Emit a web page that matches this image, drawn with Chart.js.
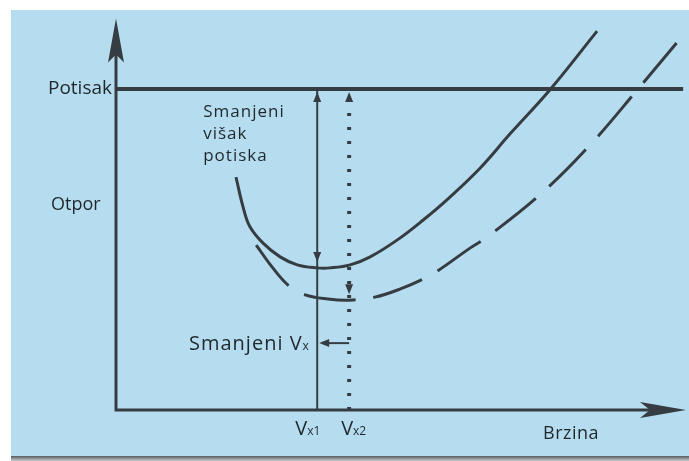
<!DOCTYPE html>
<html>
<head>
<meta charset="utf-8">
<script src="https://cdn.jsdelivr.net/npm/chart.js@4/dist/chart.umd.min.js"></script>
<style>
  body { margin: 0; background: #fff; }
  canvas { display: block; }
</style>
</head>
<body>
<canvas id="grafikOtpor" width="689" height="461"></canvas>
<script>
// Brzina / otpor (proizvoljne jedinice, 0-100 na obje osi)
const brzina1 = [21.05, 22.3, 23.5, 25.8, 28.8, 31.8, 35.3, 37.5, 41.1, 44.6, 49.3, 53.9, 58.2, 63.9, 69.1, 76.1, 84.4];
const otpor1  = [61.3, 53.4, 48.2, 43.9, 40.3, 38.2, 37.4, 37.4, 38.2, 40.3, 44.7, 50.0, 55.5, 63.7, 72.6, 84.2, 99.7];

const brzina2 = [24.6, 27.4, 30.4, 33.2, 37.2, 40.9, 45.4, 49.8, 54.6, 57.2, 62.1, 65.1, 74.7, 83.5, 91.6, 99.8];
const otpor2  = [43.4, 37.6, 32.6, 30.3, 29.2, 28.9, 29.7, 31.8, 35.0, 37.4, 42.6, 45.5, 57.1, 70.3, 84.5, 99.2];

const potisak = 84.5;
const vx1 = 35.3;
const vx2 = 40.9;
const smanjeniVxY = 17.6;

const tocke = (xs, ys) => xs.map((x, i) => ({ x: x, y: ys[i] }));

const boja = '#363d42';
const tekst = '#1f272c';
const font = '"Open Sans", sans-serif';

function strelica(ctx, x, y, ugao, duzina, sirina, usjek) {
  // vrh strelice u (x, y), ugao = smjer u kojem pokazuje
  ctx.save();
  ctx.translate(x, y);
  ctx.rotate(ugao);
  ctx.beginPath();
  ctx.moveTo(0, 0);
  ctx.lineTo(-duzina, -sirina);
  ctx.lineTo(-duzina + (usjek || 0), 0);
  ctx.lineTo(-duzina, sirina);
  ctx.closePath();
  ctx.fillStyle = boja;
  ctx.fill();
  ctx.restore();
}

function pisi(ctx, txt, x, y, size, align, razmak) {
  ctx.font = size + 'px ' + font;
  ctx.letterSpacing = (razmak || 0) + 'px';
  ctx.textAlign = align || 'left';
  ctx.textBaseline = 'middle';
  ctx.fillStyle = tekst;
  ctx.fillText(txt, x, y);
  ctx.letterSpacing = '0px';
}

// "V" + mali indeks
function pisiV(ctx, glavno, indeks, x, y, size, subSize, razmak) {
  ctx.textBaseline = 'alphabetic';
  ctx.textAlign = 'left';
  ctx.fillStyle = tekst;
  ctx.letterSpacing = (razmak || 0) + 'px';
  ctx.font = size + 'px ' + font;
  const w1 = ctx.measureText(glavno).width;
  ctx.fillText(glavno, x, y);
  ctx.letterSpacing = '0px';
  ctx.font = subSize + 'px ' + font;
  ctx.fillText(indeks, x + w1, y);
  return w1 + ctx.measureText(indeks).width;
}

const dijagram = {
  id: 'dijagram',
  beforeDraw(chart) {
    const ctx = chart.ctx;
    ctx.save();
    ctx.fillStyle = '#ffffff';
    ctx.fillRect(0, 0, chart.width, chart.height);
    ctx.fillStyle = '#b6ddef';
    ctx.fillRect(11, 10, chart.width - 11, 447);
    const g = ctx.createLinearGradient(0, 456, 0, 461);
    g.addColorStop(0, '#555b5e');
    g.addColorStop(1, '#c9cccd');
    ctx.fillStyle = g;
    ctx.fillRect(11, 456, chart.width - 11, 5);
    ctx.restore();
  },
  afterDatasetsDraw(chart) {
    const ctx = chart.ctx;
    const sx = chart.scales.x, sy = chart.scales.y;
    const x0 = sx.getPixelForValue(0), y0 = sy.getPixelForValue(0);
    const xMax = sx.getPixelForValue(100), yMax = sy.getPixelForValue(103);
    ctx.save();
    // osi
    ctx.strokeStyle = boja;
    ctx.lineWidth = 3;
    ctx.beginPath();
    ctx.moveTo(x0, yMax + 20);
    ctx.lineTo(x0, y0);
    ctx.lineTo(xMax - 20, y0);
    ctx.stroke();
    strelica(ctx, x0, yMax, -Math.PI / 2, 44, 8, 8);
    strelica(ctx, xMax, y0, 0, 46, 8, 10);

    // strelice na Vx1 i Vx2
    const p1 = sx.getPixelForValue(vx1), p2 = sx.getPixelForValue(vx2);
    const pt = sy.getPixelForValue(potisak) + 3;
    strelica(ctx, p1, pt, -Math.PI / 2, 10, 4);
    strelica(ctx, p2, pt, -Math.PI / 2, 10, 4);
    strelica(ctx, p1, sy.getPixelForValue(otpor1[6]) - 6, Math.PI / 2, 10, 4);
    strelica(ctx, p2, sy.getPixelForValue(otpor2[5]) - 6, Math.PI / 2, 10, 4);
    const ph = sy.getPixelForValue(smanjeniVxY);
    strelica(ctx, p1 + 2, ph, Math.PI, 10, 4);

    // tekst
    pisi(ctx, 'Potisak', x0 - 4, sy.getPixelForValue(potisak), 19, 'right');
    pisi(ctx, 'Otpor', 51, sy.getPixelForValue(53.9), 18, 'left');
    const lx = sx.getPixelForValue(15.3);
    pisi(ctx, 'Smanjeni', lx, 112, 17, 'left', 1);
    pisi(ctx, 'višak', lx, 134, 17, 'left', 1);
    pisi(ctx, 'potiska', lx, 156, 17, 'left', 1);
    pisiV(ctx, 'Smanjeni V', 'x', 189, ph + 7, 20, 12, 1);
    pisiV(ctx, 'V', 'x1', p1 - 22, y0 + 25, 20, 12);
    pisiV(ctx, 'V', 'x2', p2 - 8, y0 + 25, 20, 12);
    pisi(ctx, 'Brzina', 543, 434, 18, 'left', 0.5);
    ctx.restore();
  }
};

new Chart(document.getElementById('grafikOtpor').getContext('2d'), {
  type: 'line',
  data: {
    datasets: [
      {
        label: 'Otpor 1',
        data: tocke(brzina1, otpor1),
        borderColor: boja,
        borderWidth: 3,
        tension: 0.4,
        pointRadius: 0,
        clip: false
      },
      {
        label: 'Otpor 2',
        data: tocke(brzina2, otpor2),
        borderColor: boja,
        borderWidth: 3,
        borderDash: [52, 18],
        tension: 0.4,
        pointRadius: 0,
        clip: false
      },
      {
        label: 'Potisak',
        data: [{ x: 0, y: potisak }, { x: 99.5, y: potisak }],
        borderColor: boja,
        borderWidth: 4,
        pointRadius: 0,
        clip: false
      },
      {
        label: 'Vx1',
        data: [{ x: vx1, y: 0 }, { x: vx1, y: potisak }],
        borderColor: boja,
        borderWidth: 2,
        pointRadius: 0,
        clip: false
      },
      {
        label: 'Vx2',
        data: [{ x: vx2, y: 0 }, { x: vx2, y: potisak }],
        borderColor: boja,
        borderWidth: 4,
        borderDash: [3, 11],
        pointRadius: 0,
        clip: false
      },
      {
        label: 'Smanjeni Vx',
        data: [{ x: vx1 + 1, y: smanjeniVxY }, { x: vx2, y: smanjeniVxY }],
        borderColor: boja,
        borderWidth: 2,
        pointRadius: 0,
        clip: false
      }
    ]
  },
  options: {
    responsive: false,
    animation: false,
    layout: { padding: { left: 116, right: 3, top: 30, bottom: 51 } },
    plugins: {
      legend: { display: false },
      tooltip: { enabled: false }
    },
    scales: {
      x: { type: 'linear', min: 0, max: 100, display: false },
      y: { type: 'linear', min: 0, max: 100, display: false }
    }
  },
  plugins: [dijagram]
});
</script>
</body>
</html>
